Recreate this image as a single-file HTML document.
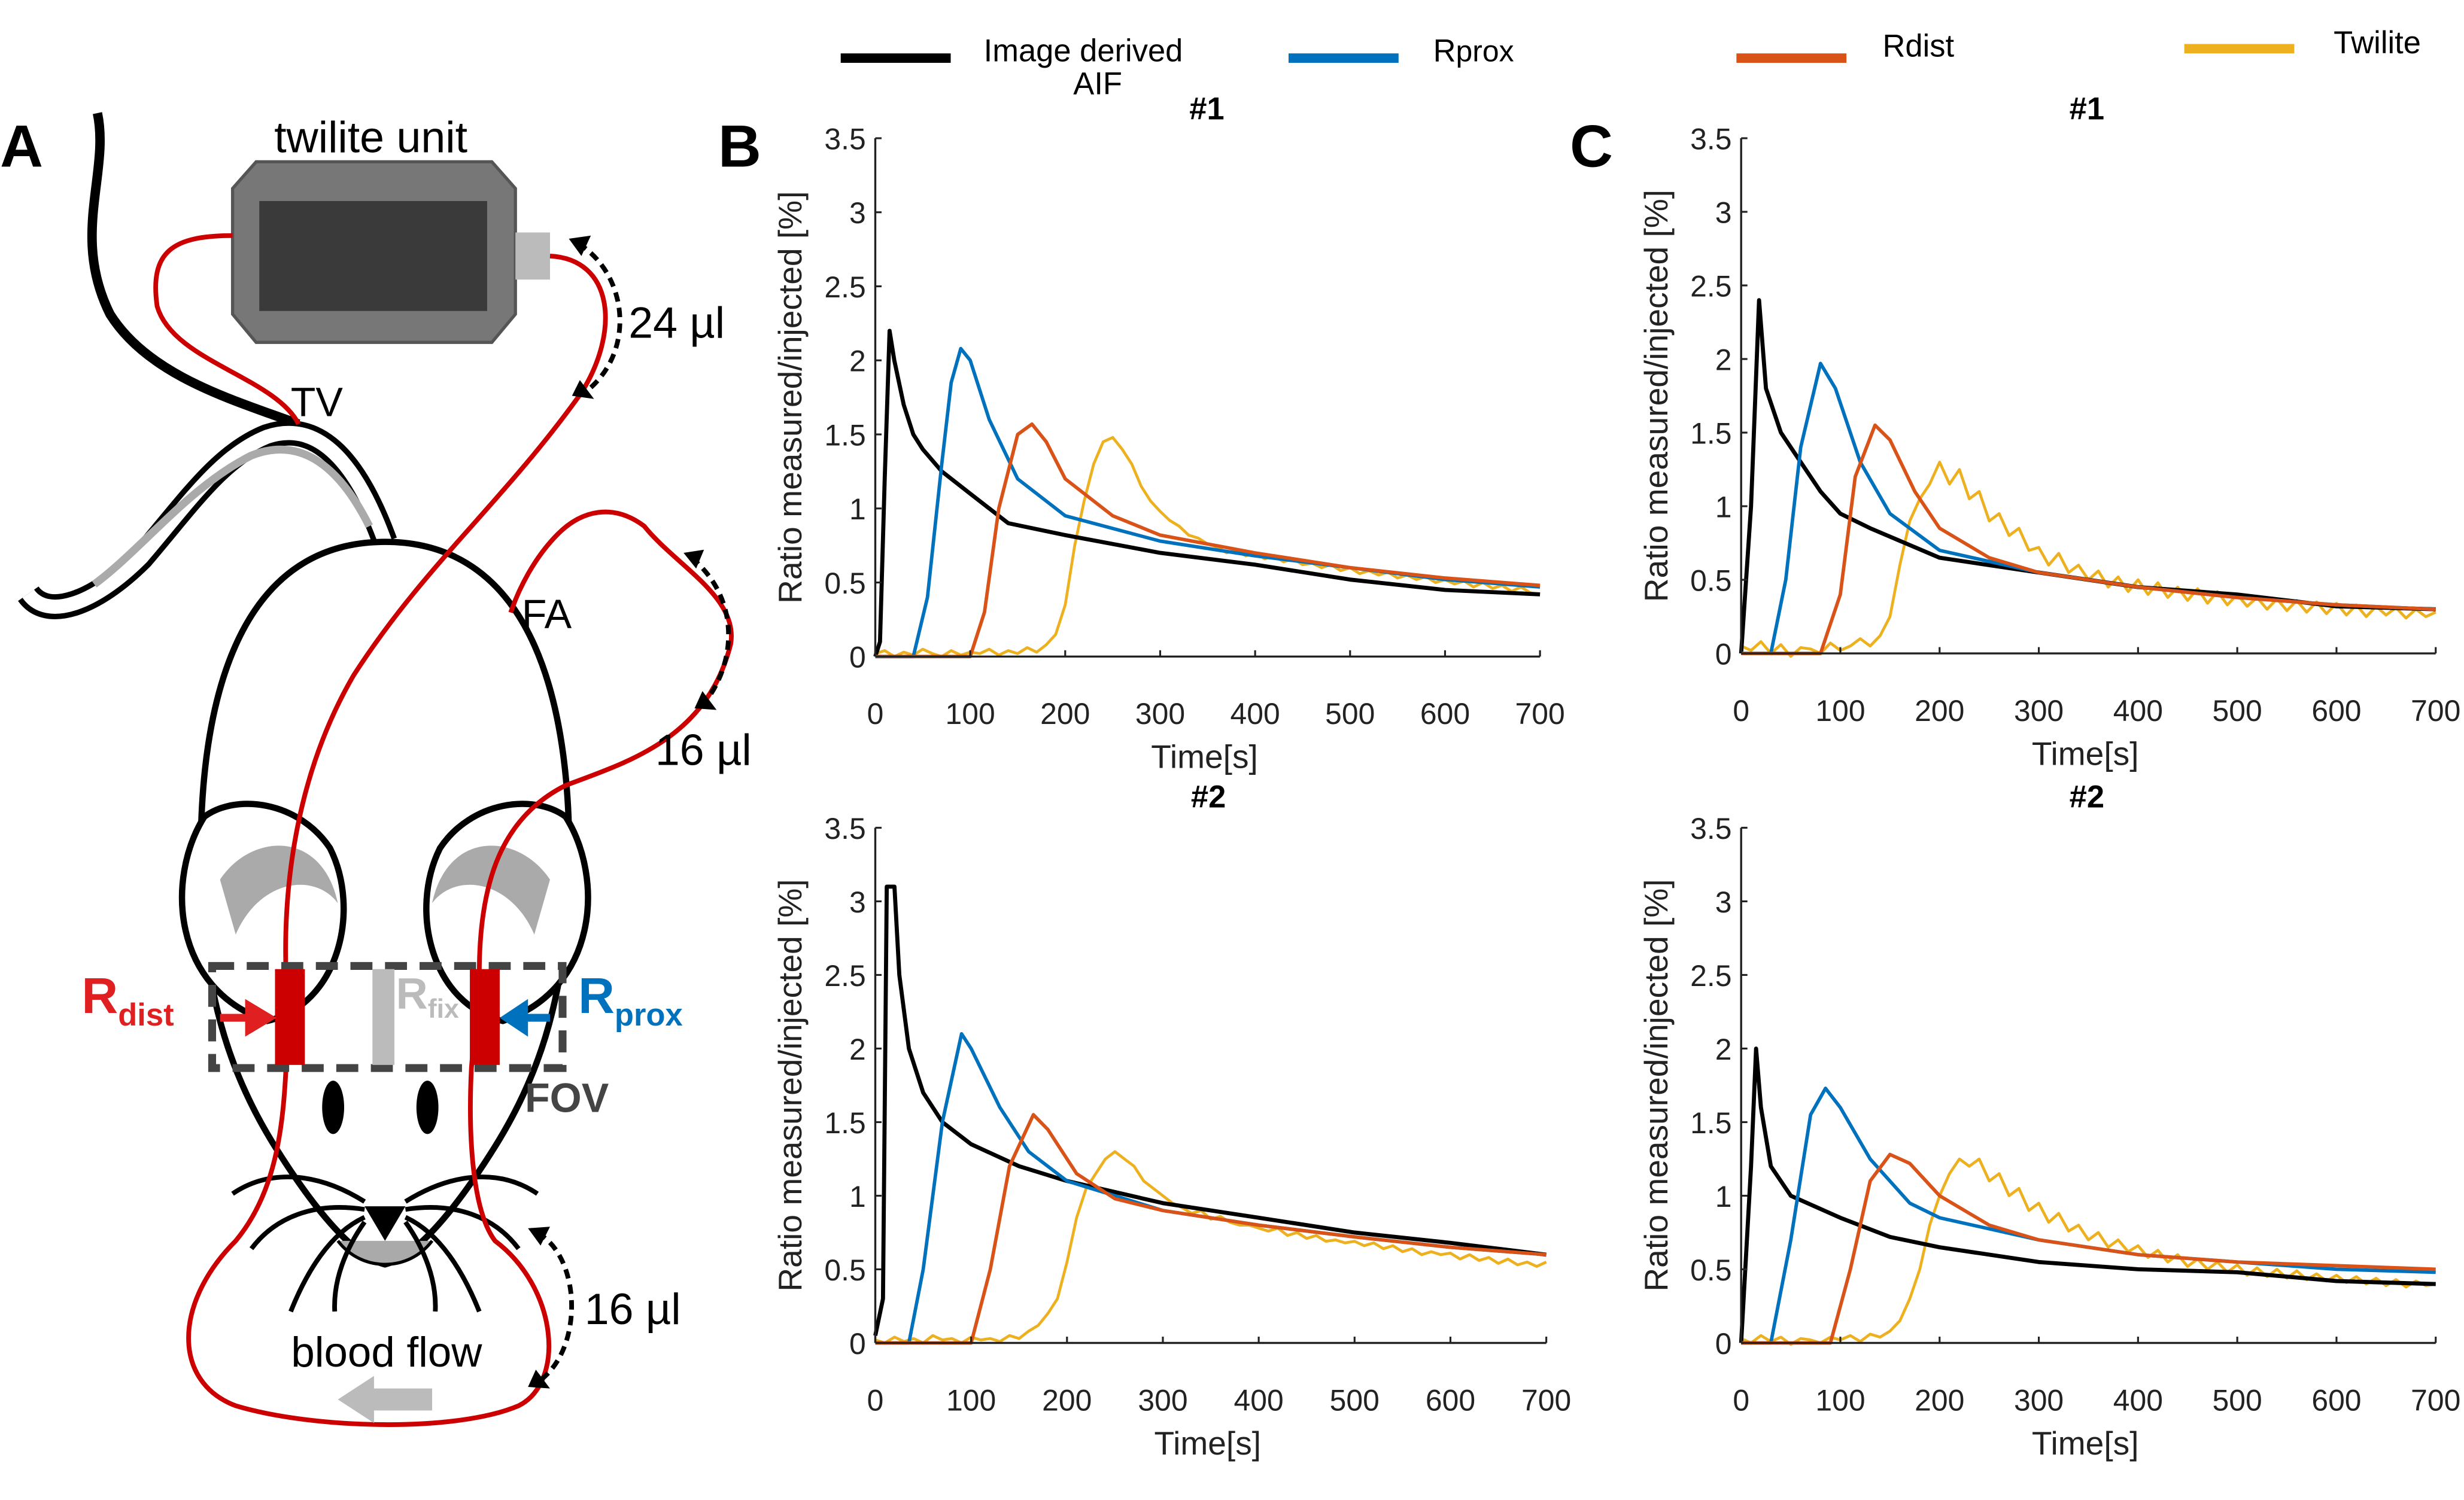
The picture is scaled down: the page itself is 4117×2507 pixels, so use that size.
<!DOCTYPE html>
<html><head><meta charset="utf-8"><style>
html,body{margin:0;padding:0;background:#fff;}
svg{display:block;font-family:"Liberation Sans","DejaVu Sans",sans-serif;}
</style></head><body>
<svg id="fig" width="4117" height="2507" viewBox="0 0 1568 955" preserveAspectRatio="none" xmlns="http://www.w3.org/2000/svg">
<rect width="1568" height="955" fill="#fff"/>
<text x="0" y="106" font-size="38" font-weight="bold">A</text>
<text x="457" y="106" font-size="38" font-weight="bold">B</text>
<text x="999" y="106" font-size="38" font-weight="bold">C</text>

<g font-size="20">
 <g><line x1="535" y1="37" x2="605" y2="37" stroke="#000" stroke-width="6"/><text x="626" y="39">Image derived</text><text x="683" y="60">AIF</text></g>
 <g><line x1="820" y1="37" x2="890" y2="37" stroke="#0072BD" stroke-width="6"/><text x="912" y="39">R<tspan font-size="19">prox</tspan></text></g>
 <g><line x1="1105" y1="37" x2="1175" y2="37" stroke="#D95319" stroke-width="6"/><text x="1198" y="36">Rdist</text></g>
 <g><line x1="1390" y1="31" x2="1460" y2="31" stroke="#EDB120" stroke-width="6"/><text x="1485" y="34">Twilite</text></g>
</g>

<g>
 <path d="M62,72 C70,110 45,150 70,200 C95,240 150,255 190,270" fill="none" stroke="#000" stroke-width="6"/>
 <path d="M18,378 C30,395 60,385 90,355 C120,320 140,290 170,278 C200,268 225,290 245,345" fill="none" stroke="#000" stroke-width="16"/>
 <path d="M18,378 C30,395 60,385 90,355 C120,320 140,290 170,278 C200,268 225,290 245,345" fill="none" stroke="#fff" stroke-width="9"/>
 <path d="M60,372 C90,350 120,310 160,290 C190,278 215,295 235,335" fill="none" stroke="#aaa" stroke-width="5"/>
 <path d="M245,345 C150,345 125,450 128,560 C130,640 150,690 175,730 C200,770 225,800 245,805 C265,800 290,770 315,730 C340,690 360,640 362,560 C365,450 340,345 245,345 Z" fill="#fff" stroke="#000" stroke-width="4"/>
 <path d="M130,520 C105,560 110,630 170,650 C215,640 230,580 210,540 C190,510 150,505 130,520 Z" fill="#fff" stroke="#000" stroke-width="4"/>
 <path d="M140,560 C160,530 205,528 215,575 C200,555 165,560 150,595 Z" fill="#aaa"/>
 <path d="M360,520 C385,560 380,630 320,650 C275,640 260,580 280,540 C300,510 340,505 360,520 Z" fill="#fff" stroke="#000" stroke-width="4"/>
 <path d="M350,560 C330,530 285,528 275,575 C290,555 325,560 340,595 Z" fill="#aaa"/>
 <ellipse cx="212" cy="705" rx="7" ry="17" fill="#000"/>
 <ellipse cx="272" cy="705" rx="7" ry="17" fill="#000"/>
 <path d="M232,768 L258,768 L245,790 Z" fill="#000"/>
 <path d="M215,790 C230,810 260,810 275,790" fill="#aaa" stroke="#000" stroke-width="2"/>
 <g fill="none" stroke="#000" stroke-width="3">
  <path d="M232,765 C200,745 170,745 148,760"/><path d="M232,770 C200,765 175,775 160,795"/><path d="M232,775 C210,785 195,810 185,835"/><path d="M232,778 C220,795 212,815 213,835"/>
  <path d="M258,765 C290,745 320,745 342,760"/><path d="M258,770 C290,765 315,775 330,795"/><path d="M258,775 C280,785 295,810 305,835"/><path d="M258,778 C270,795 278,815 277,835"/>
 </g>
 <g>
  <path d="M163,103 L313,103 L328,120 L328,200 L313,218 L163,218 L148,200 L148,120 Z" fill="#777" stroke="#555" stroke-width="2"/>
  <rect x="165" y="128" width="145" height="70" fill="#3a3a3a"/>
  <rect x="328" y="148" width="22" height="30" fill="#bbb"/>
 </g>
 <text x="236" y="97" font-size="28" text-anchor="middle">twilite unit</text>
 <g fill="none" stroke="#c00" stroke-width="3">
  <path d="M148,150 C110,150 95,160 100,195 C110,230 175,240 190,270"/>
  <path d="M350,163 C390,165 395,210 370,250 C320,320 270,360 225,430 C190,490 180,560 182,620 L182,680 C180,720 175,760 150,790 C110,830 110,880 150,895 C200,910 290,912 330,895 C360,880 355,820 315,790 C300,770 298,720 300,680 L305,620 C305,560 320,520 360,500 C400,485 450,470 465,410 C470,380 430,360 410,335 C390,320 370,325 355,340 C340,355 330,375 325,390"/>
 </g>
 <rect x="135" y="615" width="223" height="65" fill="none" stroke="#444" stroke-width="5" stroke-dasharray="14,8"/>
 <rect x="175" y="617" width="19" height="61" fill="#c00"/>
 <rect x="237" y="617" width="14" height="61" fill="#bbb"/>
 <rect x="299" y="617" width="19" height="61" fill="#c00"/>
 <path d="M140,648 L160,648" stroke="#e02020" stroke-width="5"/><path d="M156,636 L176,648 L156,660 Z" fill="#e02020"/>
 <path d="M350,648 L332,648" stroke="#0072BD" stroke-width="5"/><path d="M336,636 L318,648 L336,660 Z" fill="#0072BD"/>
 <text x="52" y="645" font-size="32" font-weight="bold" fill="#e02020">R<tspan font-size="20" dy="8">dist</tspan></text>
 <text x="252" y="642" font-size="28" font-weight="bold" fill="#bbb">R<tspan font-size="17" dy="6">fix</tspan></text>
 <text x="368" y="645" font-size="32" font-weight="bold" fill="#0072BD">R<tspan font-size="20" dy="8">prox</tspan></text>
 <text x="334" y="708" font-size="26" font-weight="bold" fill="#444">FOV</text>
 <g fill="none" stroke="#000" stroke-width="3" stroke-dasharray="6,4">
  <path d="M368,155 C400,175 405,225 372,250"/>
  <path d="M440,355 C470,380 470,420 448,448"/>
  <path d="M342,785 C370,800 372,860 342,880"/>
 </g>
 <path d="M362,152 L376,150 L370,163 Z" fill="#000"/><path d="M364,252 L378,254 L369,242 Z" fill="#000"/>
 <path d="M435,352 L448,350 L443,362 Z" fill="#000"/><path d="M442,451 L456,452 L447,440 Z" fill="#000"/>
 <path d="M336,782 L350,781 L344,793 Z" fill="#000"/><path d="M336,883 L350,884 L341,872 Z" fill="#000"/>
 <text x="400" y="215" font-size="28">24 µl</text>
 <text x="417" y="487" font-size="28">16 µl</text>
 <text x="372" y="843" font-size="28">16 µl</text>
 <text x="185" y="265" font-size="26">TV</text>
 <text x="332" y="400" font-size="26">FA</text>
 <text x="246" y="870" font-size="27" text-anchor="middle">blood flow</text>
 <path d="M275,884 L238,884 L238,876 L215,891 L238,906 L238,898 L275,898 Z" fill="#bbb"/>
</g>
<g id="charts"></g>
</svg>
<script>
const xTicks = [0,100,200,300,400,500,600,700];
const yTicks = [0,0.5,1,1.5,2,2.5,3,3.5];
const yTickLabels = ["0","0.5","1","1.5","2","2.5","3","3.5"];
const panelTitles = ["#1","#2","#1","#2"];
const twT = [0,10,20,30,40,50,60,70,80,90,100,110,120,130,140,150,160,170,180,190,200,210,220,230,240,250,260,270,280,290,300,310,320,330,340,350,360,370,380,390,400,410,420,430,440,450,460,470,480,490,500,510,520,530,540,550,560,570,580,590,600,610,620,630,640,650,660,670,680,690,700];

const b1AifT = [0,5,10,15,20,30,40,50,70,100,120,140,200,300,400,500,600,700];
const b1AifV = [0,0.1,1.2,2.2,2.0,1.7,1.5,1.4,1.25,1.1,1.0,0.9,0.82,0.7,0.62,0.52,0.45,0.42];
const b1ProxT = [0,40,55,70,80,90,100,120,150,200,300,400,500,600,700];
const b1ProxV = [0,0,0.4,1.3,1.85,2.08,2.0,1.6,1.2,0.95,0.78,0.68,0.6,0.52,0.47];
const b1DistT = [0,100,115,130,150,165,180,200,250,300,400,500,600,700];
const b1DistV = [0,0,0.3,1.0,1.5,1.57,1.45,1.2,0.95,0.82,0.7,0.6,0.53,0.48];
const b1TwV = [0.02,0.04,0.0,0.03,0.01,0.05,0.02,0.0,0.04,0.01,0.03,0.02,0.05,0.01,0.04,0.02,0.06,0.03,0.08,0.15,
 0.35,0.75,1.05,1.3,1.45,1.48,1.4,1.3,1.15,1.05,
 0.98,0.92,0.88,0.82,0.8,0.76,0.74,0.7,0.72,0.68,
 0.7,0.66,0.68,0.64,0.66,0.62,0.63,0.6,0.62,0.58,
 0.6,0.56,0.58,0.55,0.57,0.53,0.55,0.52,0.54,0.5,
 0.52,0.49,0.51,0.47,0.5,0.46,0.48,0.44,0.47,0.43,0.42];
const b2AifT = [0,8,12,20,25,35,50,70,100,150,200,300,400,500,600,700];
const b2AifV = [0.05,0.3,3.1,3.1,2.5,2.0,1.7,1.5,1.35,1.2,1.1,0.95,0.85,0.75,0.68,0.6];
const b2ProxT = [0,35,50,70,90,100,130,160,200,300,400,500,600,700];
const b2ProxV = [0,0,0.5,1.5,2.1,2.0,1.6,1.3,1.1,0.9,0.8,0.72,0.65,0.6];
const b2DistT = [0,100,120,140,165,180,210,250,300,400,500,600,700];
const b2DistV = [0,0,0.5,1.2,1.55,1.45,1.15,0.98,0.9,0.8,0.72,0.65,0.6];
const b2TwV = [0.02,0.0,0.04,0.01,0.03,0.0,0.05,0.02,0.03,0.0,0.04,0.02,0.03,0.01,0.05,0.03,0.08,0.12,0.2,0.3,
 0.55,0.85,1.05,1.15,1.25,1.3,1.25,1.2,1.1,1.05,
 1.0,0.95,0.92,0.88,0.9,0.84,0.86,0.82,0.8,0.8,
 0.78,0.76,0.78,0.73,0.75,0.71,0.73,0.69,0.7,0.68,
 0.69,0.66,0.68,0.64,0.66,0.62,0.64,0.6,0.62,0.6,
 0.61,0.57,0.6,0.56,0.58,0.54,0.57,0.53,0.55,0.52,0.55];
const c1AifT = [0,10,18,25,40,60,80,100,130,200,300,400,500,600,700];
const c1AifV = [0,1.0,2.4,1.8,1.5,1.3,1.1,0.95,0.85,0.65,0.55,0.45,0.4,0.32,0.3];
const c1ProxT = [0,30,45,60,80,95,120,150,200,300,400,500,600,700];
const c1ProxV = [0,0,0.5,1.4,1.97,1.8,1.3,0.95,0.7,0.55,0.45,0.38,0.33,0.3];
const c1DistT = [0,80,100,115,135,150,175,200,250,300,400,500,600,700];
const c1DistV = [0,0,0.4,1.2,1.55,1.45,1.1,0.85,0.65,0.55,0.45,0.38,0.33,0.3];
const c1TwV = [0.05,0.02,0.08,0.0,0.06,-0.02,0.04,0.03,0.0,0.07,0.02,0.05,0.1,0.05,0.12,0.25,0.6,0.9,1.05,1.15,
 1.3,1.15,1.25,1.05,1.1,0.9,0.95,0.8,0.85,0.7,
 0.72,0.6,0.68,0.55,0.6,0.5,0.56,0.45,0.52,0.42,
 0.5,0.4,0.48,0.38,0.45,0.36,0.44,0.34,0.42,0.33,
 0.4,0.32,0.38,0.3,0.37,0.29,0.36,0.28,0.35,0.27,
 0.34,0.26,0.33,0.25,0.32,0.26,0.31,0.24,0.3,0.25,0.28];
const c2AifT = [0,10,15,20,30,50,100,150,200,300,400,500,600,700];
const c2AifV = [0,1.2,2.0,1.6,1.2,1.0,0.85,0.72,0.65,0.55,0.5,0.48,0.42,0.4];
const c2ProxT = [0,30,50,70,85,100,130,170,200,300,400,500,600,700];
const c2ProxV = [0,0,0.7,1.55,1.73,1.6,1.25,0.95,0.85,0.7,0.6,0.55,0.5,0.48];
const c2DistT = [0,90,110,130,150,170,200,250,300,400,500,700];
const c2DistV = [0,0,0.5,1.1,1.28,1.22,1.0,0.8,0.7,0.6,0.55,0.5];
const c2TwV = [0.03,0.0,0.05,0.01,0.04,-0.01,0.03,0.02,0.0,0.04,0.02,0.05,0.01,0.06,0.04,0.08,0.15,0.3,0.5,0.8,
 1.0,1.15,1.25,1.2,1.25,1.1,1.15,1.0,1.05,0.9,
 0.95,0.82,0.88,0.76,0.8,0.7,0.75,0.65,0.7,0.62,
 0.66,0.58,0.63,0.55,0.6,0.52,0.57,0.5,0.55,0.48,
 0.53,0.46,0.51,0.45,0.5,0.44,0.49,0.43,0.47,0.42,
 0.46,0.41,0.45,0.4,0.44,0.39,0.43,0.38,0.42,0.39,0.4];

const NS = "http://www.w3.org/2000/svg";
const root = document.getElementById('charts');
function mk(tag, attrs, parent){ const e=document.createElementNS(NS,tag); for(const k in attrs) e.setAttribute(k,attrs[k]); parent.appendChild(e); return e; }

const panels = [
 {name:'b1', x0:557, x1:980, yTop:88, yBot:418, tx:768, tty:76, series:[[b1AifT,b1AifV],[b1ProxT,b1ProxV],[b1DistT,b1DistV],[twT,b1TwV]]},
 {name:'b2', x0:557, x1:984, yTop:527, yBot:855, tx:769, tty:514, series:[[b2AifT,b2AifV],[b2ProxT,b2ProxV],[b2DistT,b2DistV],[twT,b2TwV]]},
 {name:'c1', x0:1108, x1:1550, yTop:88, yBot:416, tx:1328, tty:76, series:[[c1AifT,c1AifV],[c1ProxT,c1ProxV],[c1DistT,c1DistV],[twT,c1TwV]]},
 {name:'c2', x0:1108, x1:1550, yTop:527, yBot:855, tx:1328, tty:514, series:[[c2AifT,c2AifV],[c2ProxT,c2ProxV],[c2DistT,c2DistV],[twT,c2TwV]]}
];
const colors = ['#000000','#0072BD','#D95319','#EDB120'];
const seriesNames = ['aif','rprox','rdist','twilite'];
const widths = [2.6,2.2,2.2,1.8];
const drawOrder = [3,0,1,2];

panels.forEach((p,pi)=>{
 const g = mk('g',{},root);
 
 
 const sx = v => p.x0 + (v-0)/(700-0)*(p.x1-p.x0);
 const sy = v => p.yBot - (v-0)/(3.5-0)*(p.yBot-p.yTop);
 drawOrder.forEach(si=>{
  const [T,V] = p.series[si];
  let d='';
  for(let i=0;i<T.length;i++){ d += (i?'L':'M') + sx(T[i]).toFixed(1)+','+sy(V[i]).toFixed(1); }
  const path = mk('path',{d:d,fill:'none',stroke:colors[si],'stroke-width':widths[si],'stroke-linejoin':'round'},g);
  
  
 });
 const ax = mk('g',{},g);
 
 
 mk('line',{x1:p.x0,y1:p.yTop,x2:p.x0,y2:p.yBot,stroke:'#222','stroke-width':1.3},ax);
 mk('line',{x1:p.x0,y1:p.yBot,x2:p.x1,y2:p.yBot,stroke:'#222','stroke-width':1.3},ax);
 xTicks.forEach(t=>{
  const x=sx(t);
  mk('line',{x1:x,y1:p.yBot,x2:x,y2:p.yBot-4,stroke:'#222','stroke-width':1.2},ax);
  const tx = mk('text',{x:x,y:p.yBot+43,'font-size':19,'text-anchor':'middle',fill:'#222'},ax);
  tx.textContent = String(t);
  
  
 });
 yTicks.forEach((t,i)=>{
  const y=sy(t);
  mk('line',{x1:p.x0,y1:y,x2:p.x0+4,y2:y,stroke:'#222','stroke-width':1.2},ax);
  const ty = mk('text',{x:p.x0-6,y:y+7,'font-size':19,'text-anchor':'end',fill:'#222'},ax);
  ty.textContent = yTickLabels[i];
  
  
 });
 const xl = mk('text',{x:(p.x0+p.x1)/2-2,y:p.yBot+71,'font-size':21,'text-anchor':'middle',fill:'#222'},g);
 xl.textContent='Time[s]';
 
 
 const cy=(p.yTop+p.yBot)/2, cx=p.x0-47;
 const yl = mk('text',{x:cx,y:cy,'font-size':21,'text-anchor':'middle',fill:'#222',transform:'rotate(-90 '+cx+' '+cy+')'},g);
 yl.textContent='Ratio measured/injected [%]';
 
 
 const tt = mk('text',{x:p.tx,y:p.tty,'font-size':20,'font-weight':'bold','text-anchor':'middle'},g);
 tt.textContent = panelTitles[pi];
 
 
});
</script>
</body></html>
